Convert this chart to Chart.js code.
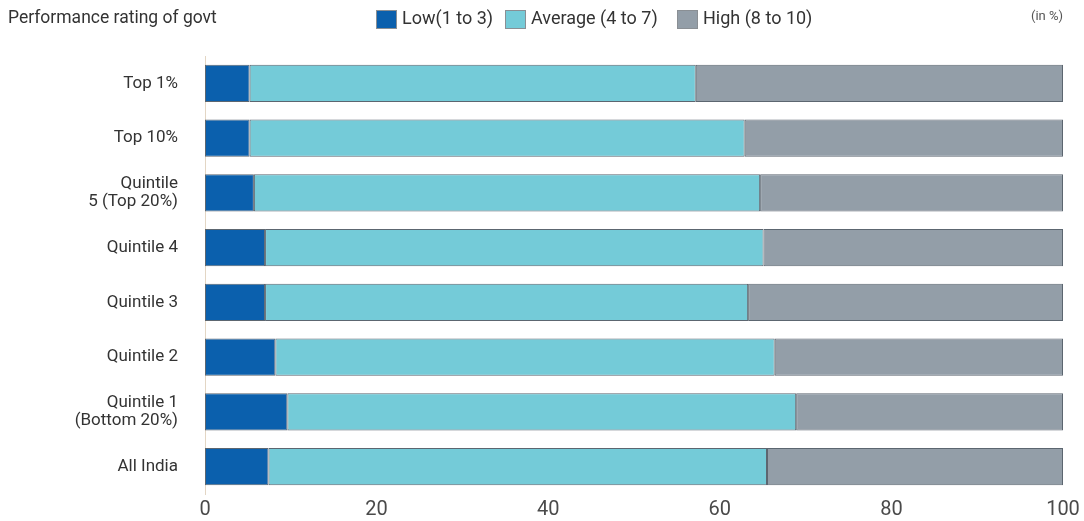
<!DOCTYPE html>
<html>
<head>
<meta charset="utf-8">
<script src="https://cdn.jsdelivr.net/npm/chart.js@4.4.1/dist/chart.umd.min.js"></script>
<style>
  html, body { margin: 0; padding: 0; background: #ffffff; }
  #wrap { position: relative; width: 1084px; height: 521px; }
</style>
</head>
<body>
<div id="wrap"><canvas id="chart" width="1084" height="521"></canvas></div>
<script>
// Share of respondents by performance rating of the government (in %)
const categories = [
  'Top 1%',
  'Top 10%',
  ['Quintile', '5 (Top 20%)'],
  'Quintile 4',
  'Quintile 3',
  'Quintile 2',
  ['Quintile 1', '(Bottom 20%)'],
  'All India'
];
const lowValues     = [5.2, 5.2, 5.7, 7.0, 7.0, 8.2, 9.6, 7.4];
const averageValues = [52.0, 57.7, 59.0, 58.1, 56.3, 58.2, 59.3, 58.1];
const highValues    = [42.8, 37.1, 35.3, 34.9, 36.7, 33.6, 31.1, 34.5];
const seriesNames   = ['Low(1 to 3)', 'Average (4 to 7)', 'High (8 to 10)'];
const xTicks        = [0, 20, 40, 60, 80, 100];

const FONT = "Roboto, 'DejaVu Sans', sans-serif";
const colors = ['#0b60ad', '#74cbd8', '#939ea8'];

// Header: title, legend swatches and unit note
const headerPlugin = {
  id: 'header',
  afterDraw(chart) {
    const ctx = chart.ctx;
    ctx.save();
    ctx.textBaseline = 'middle';
    ctx.font = '17.5px ' + FONT;
    ctx.fillStyle = '#333333';
    ctx.textAlign = 'left';
    ctx.fillText('Performance rating of govt', 8, 19);

    const boxX = [376, 505, 677];
    chart.data.datasets.forEach((ds, i) => {
      ctx.fillStyle = ds.backgroundColor;
      ctx.fillRect(boxX[i], 10, 21, 19);
      ctx.strokeStyle = '#8a8f94';
      ctx.lineWidth = 1;
      ctx.strokeRect(boxX[i] + 0.5, 10.5, 20, 18);
      ctx.fillStyle = '#333333';
      ctx.font = '18px ' + FONT;
      ctx.fillText(ds.label, boxX[i] + 26, 19);
    });

    ctx.font = '13px ' + FONT;
    ctx.fillStyle = '#555555';
    ctx.textAlign = 'right';
    ctx.fillText('(in %)', 1063, 17);
    ctx.restore();
  }
};

new Chart(document.getElementById('chart'), {
  type: 'bar',
  data: {
    labels: categories,
    datasets: [
      { label: seriesNames[0], data: lowValues,     backgroundColor: colors[0] },
      { label: seriesNames[1], data: averageValues, backgroundColor: colors[1] },
      { label: seriesNames[2], data: highValues,    backgroundColor: colors[2] }
    ].map(d => Object.assign(d, {
      borderColor: '#5c6670',
      borderWidth: 1,
      borderSkipped: false,
      categoryPercentage: 0.68,
      barPercentage: 1.0
    }))
  },
  options: {
    indexAxis: 'y',
    responsive: false,
    animation: false,
    events: [],
    layout: { padding: { top: 56, right: 21, left: 0, bottom: 0 } },
    plugins: {
      legend: { display: false },
      tooltip: { enabled: false },
      title: { display: false }
    },
    scales: {
      x: {
        stacked: true,
        min: 0,
        max: 100,
        afterBuildTicks(scale) { scale.ticks = xTicks.map(v => ({ value: v })); },
        afterFit(scale) { scale.height = 27; },
        grid: { display: false, drawTicks: false },
        border: { display: false },
        ticks: {
          padding: 4,
          color: '#4a4a4a',
          font: { family: FONT, size: 20 }
        }
      },
      y: {
        stacked: true,
        afterFit(scale) {
          scale.width = 205;
          // the label gap is horizontal only; keep it out of the vertical margins
          scale.paddingTop = 0;
          scale.paddingBottom = 0;
        },
        grid: { display: false, drawTicks: false },
        border: { display: true, color: '#e3d6c4', width: 1 },
        ticks: {
          padding: 27,
          color: '#333333',
          font: { family: FONT, size: 17, lineHeight: 1.1 }
        }
      }
    }
  },
  plugins: [headerPlugin]
});
</script>
</body>
</html>
